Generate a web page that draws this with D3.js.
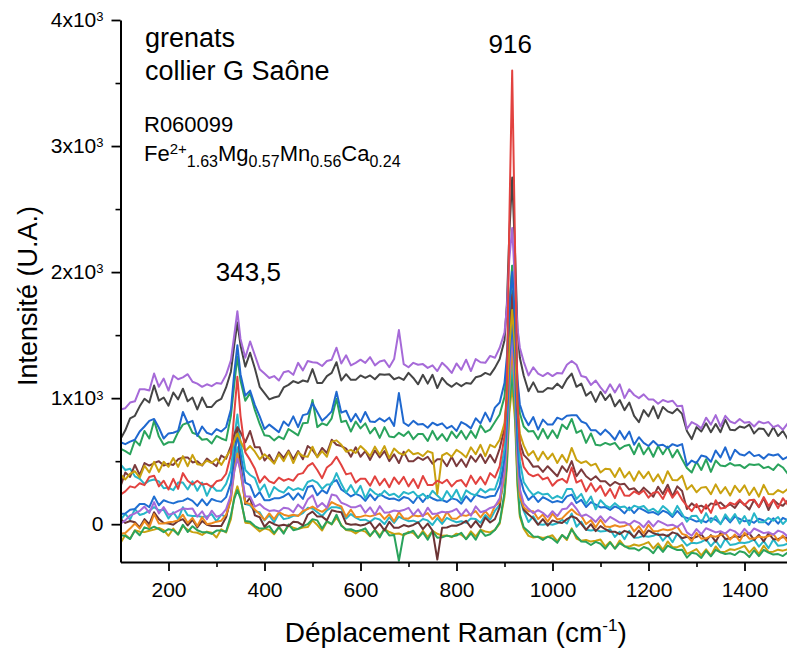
<!DOCTYPE html>
<html>
<head>
<meta charset="utf-8">
<script src="https://cdn.jsdelivr.net/npm/d3@7"></script>
<style>
  body { margin: 0; background: #fff; }
  svg { display: block; }
  text { font-family: "Liberation Sans", Arial, sans-serif; fill: #000; }
</style>
</head>
<body>
<svg id="chart" width="787" height="652"></svg>
<script>
// Raman shift sampling (cm-1), denser around the 343.5 and 916 bands
const ramanShift = [
  100,110,120,130,140,150,160,170,180,190,200,210,220,230,240,250,260,270,280,290,300,310,320,330,
  337,343.5,
  350,360,370,380,390,400,410,420,430,440,450,460,470,480,490,500,510,520,530,540,550,560,570,580,590,
  600,610,620,630,640,650,660,670,680,690,700,710,720,730,740,750,760,770,780,790,800,810,820,830,840,
  850,860,870,880,890,
  900,905,910,916,922,927,932,
  940,950,960,970,980,990,1000,1010,1020,1030,1040,1050,1060,1070,1080,1090,1100,1110,1120,1130,1140,
  1150,1160,1170,1180,1190,1200,1210,1220,1230,1240,1250,1260,1270,1280,1290,1300,1310,1320,1330,1340,
  1350,1360,1370,1380,1390,1400,1410,1420,1430,1440,1450,1460,1470,1480,1490,1500
];

// Intensities (a.u.) of each garnet spectrum on the ramanShift grid
const violet1 = [
  910,920,965,975,1070,1070,1060,1195,1090,1155,1060,1180,1150,1165,1190,1130,1115,1090,1110,1095,1120,1115,1185,1300,
  1500,1690,
  1470,1320,1450,1340,1230,1195,1160,1175,1140,1205,1215,1185,1280,1220,1295,1285,1280,1255,1295,1305,
  1400,1275,1340,1260,1280,1305,1280,1325,1260,1290,1300,1245,1310,1540,1270,1245,1280,1265,1270,1240,
  1260,1215,1280,1245,1200,1275,1225,1305,1215,1310,1285,1280,1335,1320,1400,
  1520,1720,2100,2350,1900,1560,1400,
  1290,1180,1245,1195,1175,1200,1175,1200,1195,1265,1295,1265,1175,1165,1105,1140,1085,1040,1110,1045,
  1110,1000,1070,1025,1000,1030,990,990,955,985,970,980,935,940,755,810,790,760,845,790,
  865,775,860,815,800,835,805,810,775,815,800,810,770,785,750,800,765
];
const graphite = [
  675,745,840,860,935,995,965,1100,980,1005,940,1045,990,1075,975,1005,910,1005,930,930,975,995,1085,1210,
  1420,1600,
  1420,1250,1360,1235,1090,1040,990,1005,1015,1085,1105,1135,1120,1140,1130,1230,1120,1120,1175,1200,
  1285,1140,1190,1145,1145,1180,1160,1180,1150,1190,1185,1190,1150,1165,1145,1200,1160,1110,1185,1115,
  1185,1080,1160,1115,1090,1120,1095,1120,1115,1165,1175,1200,1185,1240,1310,
  1460,1750,2300,2750,2150,1550,1320,
  1180,1055,1125,1050,1050,1080,1075,1115,1080,1150,1195,1090,1115,1020,1050,970,1050,985,1030,935,
  985,905,965,860,810,905,855,935,840,930,895,880,915,875,740,675,770,735,800,730,
  795,730,830,750,745,775,765,790,720,760,755,700,770,700,740,675,750
];
const blue1 = [
  650,635,655,670,735,775,820,835,765,680,720,725,740,890,805,820,700,775,725,710,755,735,770,910,
  1200,1420,
  1190,1020,1060,945,855,755,790,760,730,815,780,855,770,865,875,960,890,820,855,895,
  1050,885,900,815,875,810,890,815,810,840,815,845,780,1040,805,780,820,790,795,765,
  805,785,800,760,780,740,810,790,760,840,800,885,815,925,965,
  1120,1330,1720,2000,1620,1150,950,
  855,785,850,750,830,790,790,845,830,860,865,865,815,800,745,745,710,750,715,670,
  740,675,735,630,690,645,620,660,625,630,605,635,620,635,465,505,485,545,535,495,
  585,530,610,510,590,555,545,575,540,550,520,555,545,555,515,535,500
];
const green1 = [
  600,580,555,665,625,740,680,820,695,630,650,650,730,790,805,725,710,670,675,640,700,680,665,860,
  1110,1330,
  1140,980,1040,905,795,705,700,665,695,675,755,730,705,800,805,985,770,800,785,840,
  995,810,820,735,815,760,800,720,765,685,770,695,690,725,700,735,675,715,715,660,
  740,670,715,660,735,685,740,675,740,685,785,730,750,810,870,
  1010,1260,1720,2050,1650,1100,880,
  775,735,740,675,755,680,745,685,790,755,835,725,745,645,720,630,625,645,630,645,
  595,620,630,555,640,555,610,535,620,555,615,530,590,515,445,410,495,430,515,415,
  505,465,460,485,465,470,445,475,470,475,445,455,430,475,450,400,475
];
const ochre1 = [
  395,355,400,420,370,465,410,495,415,495,455,525,455,540,460,550,475,470,505,485,520,470,535,590,
  660,720,
  660,580,620,575,515,555,520,480,555,500,575,485,570,540,535,615,530,580,535,655,
  665,630,575,590,565,620,585,540,615,550,620,525,600,565,550,590,555,565,540,580,
  565,240,545,565,535,590,565,530,610,555,630,540,630,610,670,
  800,1000,1400,1700,1380,950,720,
  625,545,580,505,575,515,560,485,550,490,605,510,485,500,465,480,410,440,435,375,
  445,370,415,345,420,365,415,340,395,325,420,350,348,385,275,310,253,290,295,238,
  316,245,294,227,305,255,308,231,290,218,312,240,238,271,250,279,220
];
const maroon1 = [
  300,410,375,470,390,485,465,485,500,465,480,470,515,530,530,490,500,465,520,490,460,545,520,620,
  710,770,
  730,650,740,610,610,505,550,485,570,525,585,515,580,515,620,590,535,605,565,670,
  630,620,600,535,610,535,580,510,585,530,580,500,555,485,575,500,500,530,510,535,
  480,515,515,460,535,460,515,455,540,495,555,485,550,490,600,
  760,1000,1500,1820,1480,900,650,
  550,510,455,460,415,460,420,380,460,415,500,380,435,380,350,380,340,340,305,335,
  315,320,275,285,245,290,255,218,297,240,313,220,300,263,120,165,135,147,123,165,
  155,172,137,158,129,185,155,116,193,135,205,112,193,160,146,188,150
];
const red1 = [
  235,260,300,290,325,310,375,385,300,345,275,360,280,405,345,315,345,315,320,295,340,350,400,550,
  880,1170,
  860,570,510,440,330,380,340,325,370,345,360,345,395,405,460,485,430,365,450,480,
  535,470,395,405,330,360,360,305,380,310,360,293,371,320,375,300,358,287,382,310,
  310,345,325,353,300,340,350,300,385,320,375,315,405,370,460,
  700,1100,2400,3600,2200,1000,600,
  455,400,380,395,355,370,305,345,360,330,450,330,350,260,325,260,305,225,280,207,
  300,228,226,260,238,267,211,250,255,200,280,210,260,193,145,103,160,90,155,90,
  190,125,130,170,155,195,150,190,193,136,215,144,193,127,206,155,205
];
const cyan1 = [
  475,430,440,380,360,320,345,355,340,285,290,270,330,330,275,340,265,330,225,305,265,265,320,430,
  680,870,
  650,430,390,365,265,315,215,295,265,250,295,270,285,270,335,350,330,280,315,315,
  405,320,250,310,240,305,205,280,245,225,266,230,242,213,255,240,258,217,241,205,
  265,228,192,263,207,273,188,268,242,228,280,252,278,275,385,
  600,950,1600,2050,1700,900,500,
  335,275,230,255,235,242,203,225,205,280,280,200,240,160,220,118,190,150,130,167,
  134,140,111,147,133,144,105,123,91,144,112,70,145,83,20,65,67,10,88,16,
  65,-1,78,27,81,5,65,-7,87,16,15,49,28,57,1,40,40
];
const blue2 = [
  80,85,115,120,160,160,135,220,150,190,175,165,180,185,205,185,145,197,150,200,185,177,215,330,
  560,700,
  570,330,310,215,255,190,190,205,205,220,245,195,245,200,295,305,230,270,245,330,
  350,275,250,220,240,225,185,237,190,238,216,200,203,187,215,205,168,222,176,225,
  204,188,192,176,205,195,163,222,180,235,220,210,222,225,305,
  520,800,1300,1600,1250,650,380,
  265,192,227,176,215,195,173,184,173,221,235,168,193,136,175,155,133,136,113,141,
  123,86,133,88,130,112,90,96,75,107,91,57,105,62,50,38,21,30,15,47,
  35,4,57,14,60,42,23,30,11,43,29,-4,47,4,50,32,10
];
const violet2 = [
  5,30,70,85,105,140,90,175,85,135,75,85,105,125,120,125,60,102,40,107,59,72,120,230,
  420,520,
  430,220,220,140,160,125,105,110,100,130,125,95,155,120,195,230,135,168,130,235,
  225,170,155,135,135,150,91,133,75,143,91,95,109,103,112,130,74,118,62,131,
  80,85,99,93,102,122,70,118,67,141,95,106,129,140,205,
  420,700,1200,1500,1150,560,280,
  165,122,87,111,90,56,103,64,118,125,170,122,63,77,53,18,63,16,58,36,
  13,16,-5,27,11,-24,25,-18,26,8,-11,-4,-23,10,-65,-92,-39,-80,-32,-48,
  -65,-56,-75,-43,-57,-90,-37,-80,-34,-52,-71,-64,-83,-51,-65,-98,-51
];
const orange1 = [
  -75,-70,-35,5,-35,25,-25,80,5,5,15,20,30,75,10,50,-15,55,0,8,20,28,75,190,
  420,560,
  410,170,160,115,80,35,85,40,95,75,65,75,65,105,120,140,115,98,125,175,
  155,140,60,115,57,58,70,62,72,86,40,79,22,96,47,44,71,63,69,88,
  39,76,25,97,46,43,73,66,80,104,53,104,57,145,175,
  380,620,1100,1400,1050,480,220,
  135,102,102,41,76,19,83,37,46,85,118,82,66,1,32,-25,35,-19,-22,-9,
  -20,-14,2,-57,-16,-73,-5,-57,-54,-41,-48,-40,-20,-77,-90,-137,-69,-115,-112,-93,
  -100,-86,-70,-123,-82,-135,-67,-115,-114,-97,-106,-94,-78,-131,-90,-143,-81
];
const maroon2 = [
  40,10,25,15,-25,40,0,95,40,10,5,-5,25,40,-10,35,-25,25,-5,-15,-15,-15,55,210,
  560,760,
  490,160,210,70,55,-20,20,0,-13,-5,-15,20,15,-10,75,100,60,60,30,110,
  100,95,5,-5,0,-10,-2,16,-40,5,-50,19,-29,-28,-7,-18,-6,15,-39,4,
  -50,-280,-29,-26,-11,-12,2,26,-25,25,-25,53,13,40,135,
  500,900,1500,1850,1400,600,250,
  115,77,45,-5,40,-12,30,16,10,40,63,47,3,-45,0,-55,-15,-40,-60,-60,
  -79,-53,-66,-104,-51,-98,-50,-70,-85,-82,-95,-65,-77,-112,-100,-114,-100,-80,-131,-87,
  -139,-70,-117,-113,-95,-102,-88,-73,-125,-85,-137,-72,-119,-119,-101,-111,-98
];
const cyan2 = [
  35,82,37,120,73,85,107,135,110,115,45,95,40,135,70,65,65,58,60,80,23,76,57,230,
  470,610,
  430,160,150,100,95,30,70,15,87,40,48,67,68,88,130,125,95,65,110,135,
  135,125,45,80,52,33,36,19,48,37,1,55,10,60,40,24,28,12,41,30,
  -6,48,2,51,30,15,23,12,46,41,11,73,36,105,155,
  380,620,1050,1300,980,450,200,
  105,17,63,0,-5,3,-5,7,35,5,85,-20,20,-45,-50,-45,-58,-54,-40,-101,
  -60,-119,-53,-107,-105,-93,-100,-92,-74,-131,-87,-143,-74,-125,-170,-147,-152,-141,-120,-175,
  -130,-185,-115,-165,-160,-145,-150,-141,-122,-178,-134,-190,-121,-172,-168,-154,-165
];
const green2 = [
  -85,-93,-118,-51,-88,-25,-38,-20,-40,-63,-40,-47,-82,-5,-62,-16,-48,-63,-64,-77,-51,-51,-60,70,
  200,270,
  205,25,20,-15,-35,-32,-15,-70,-23,-75,-2,-48,-38,-15,0,40,30,-35,25,0,
  75,-13,-42,-40,-55,-50,-33,-91,-48,-105,-37,-89,-86,-290,-78,-70,-52,-109,-66,-123,
  -55,-107,-104,-91,-98,-90,-68,-120,-72,-123,-49,-93,-80,-47,15,
  250,500,950,1200,900,350,80,
  -25,-58,-97,-100,-125,-99,-115,-148,-87,-115,-42,-95,-137,-140,-165,-140,-155,-195,-145,-195,
  -150,-174,-193,-190,-209,-181,-195,-230,-175,-220,-170,-190,-205,-202,-265,-227,-235,-268,-211,-255,
  -204,-223,-237,-231,-245,-215,-225,-261,-207,-253,-204,-225,-241,-237,-253,-224,-245
];
const ochre2 = [
  -150,-85,-115,-48,-60,-63,-52,-43,-30,-47,-92,-35,-82,-15,-44,-63,-68,-85,-59,-67,-106,-41,-65,40,
  220,300,
  215,12,8,-25,-57,-33,-45,-80,-23,-65,-12,-28,-39,-26,-23,30,-7,-50,20,-2,
  52,-5,-47,-52,-73,-47,-59,-96,-43,-90,-40,-62,-77,-74,-89,-61,-71,-108,-53,-102,
  -52,-76,-91,-89,-103,-75,-83,-115,-57,-98,-44,-58,-65,-45,5,
  220,450,880,1100,820,300,60,
  -35,-93,-106,-100,-110,-102,-88,-137,-86,-125,-33,-115,-132,-125,-138,-132,-122,-177,-140,-193,
  -129,-177,-178,-161,-171,-158,-142,-193,-152,-203,-137,-183,-182,-165,-235,-218,-198,-247,-200,-249,
  -177,-223,-218,-199,-204,-190,-172,-226,-184,-238,-171,-220,-218,-202,-210,-199,-190
];

// Axis ticks
const xMajorTicks = [200, 400, 600, 800, 1000, 1200, 1400];
const xMinorTicks = [300, 500, 700, 900, 1100, 1300, 1500];
const yMajorTicks = [0, 1000, 2000, 3000, 4000];
const yMinorTicks = [500, 1500, 2500, 3500];

// Band annotations: band position, label text, label baseline intensity
const bandLabels = [
  { shift: 343.5, text: "343,5", value: 1930 },
  { shift: 916, text: "916", value: 3740 }
];
const bandLabelDx = { "343,5": 11, "916": -2 };

// Drawing order (last on top) with line colours
const spectra = [
  { values: ochre2,   color: "#c9a10f" },
  { values: green2,   color: "#2aa35c" },
  { values: cyan2,    color: "#27b6c8" },
  { values: maroon2,  color: "#6b3434" },
  { values: orange1,  color: "#ec8a1e" },
  { values: violet2,  color: "#a66ad8" },
  { values: blue2,    color: "#1f6fd2" },
  { values: cyan1,    color: "#27b6c8" },
  { values: maroon1,  color: "#7b3a3c" },
  { values: ochre1,   color: "#c9a10f" },
  { values: green1,   color: "#2aa35c" },
  { values: blue1,    color: "#1f68cf" },
  { values: graphite, color: "#454545" },
  { values: violet1,  color: "#a66ad8" },
  { values: red1,     color: "#e2423f" }
];

const svg = d3.select("#chart");
const plot = { left: 120.5, right: 792.5, top: 20, bottom: 562 };

const x = d3.scaleLinear().domain([100, 1500]).range([plot.left, plot.right]);
const y = d3.scaleLinear().domain([-300, 4000]).range([plot.bottom, plot.top]);

svg.append("defs").append("clipPath").attr("id", "plot-clip")
  .append("rect")
  .attr("x", plot.left).attr("y", plot.top - 5)
  .attr("width", plot.right - plot.left).attr("height", plot.bottom - plot.top + 5);

// Spectra
const line = d3.line()
  .x((d, i) => x(ramanShift[i]))
  .y(d => y(d));

svg.append("g").attr("clip-path", "url(#plot-clip)")
  .selectAll("path")
  .data(spectra)
  .join("path")
  .attr("fill", "none")
  .attr("stroke", d => d.color)
  .attr("stroke-width", 2)
  .attr("stroke-linejoin", "round")
  .attr("d", d => line(d.values));

// Minor ticks
svg.append("g")
  .attr("transform", `translate(0,${plot.bottom})`)
  .call(d3.axisBottom(x).tickValues(xMinorTicks).tickSize(5).tickFormat(""))
  .call(g => g.select(".domain").remove())
  .selectAll("line").attr("stroke", "#000").attr("stroke-width", 1.6);

svg.append("g")
  .attr("transform", `translate(${plot.left},0)`)
  .call(d3.axisLeft(y).tickValues(yMinorTicks).tickSize(5).tickFormat(""))
  .call(g => g.select(".domain").remove())
  .selectAll("line").attr("stroke", "#000").attr("stroke-width", 1.6);

// Major axes
const xAxis = svg.append("g")
  .attr("transform", `translate(0,${plot.bottom})`)
  .call(d3.axisBottom(x).tickValues(xMajorTicks).tickSize(9).tickSizeOuter(0).tickPadding(11)
    .tickFormat(d3.format("d")));

const yAxis = svg.append("g")
  .attr("transform", `translate(${plot.left},0)`)
  .call(d3.axisLeft(y).tickValues(yMajorTicks).tickSize(9).tickSizeOuter(0).tickPadding(8));

[xAxis, yAxis].forEach(g => {
  g.select(".domain").attr("stroke", "#000").attr("stroke-width", 2);
  g.selectAll(".tick line").attr("stroke", "#000").attr("stroke-width", 1.8);
  g.selectAll(".tick text").attr("font-size", 21).attr("font-family", "Liberation Sans, Arial, sans-serif").attr("fill", "#000");
});

// y tick labels in the form Nx10^3
yAxis.selectAll(".tick text").each(function (d) {
  const t = d3.select(this);
  t.text(null);
  if (d === 0) {
    t.text("0");
  } else {
    t.append("tspan").text(`${d / 1000}x10`);
    t.append("tspan").attr("dy", "-0.45em").attr("font-size", 13).text("3");
  }
});

// Axis titles
const xTitle = svg.append("text")
  .attr("x", (plot.left + 787) / 2 + 2)
  .attr("y", 642)
  .attr("text-anchor", "middle")
  .attr("font-size", 28);
xTitle.append("tspan").text("Déplacement Raman (cm");
xTitle.append("tspan").attr("dy", -11).attr("font-size", 17).text("-1");
xTitle.append("tspan").attr("dy", 11).text(")");

svg.append("text")
  .attr("transform", "translate(37,296) rotate(-90)")
  .attr("text-anchor", "middle")
  .attr("font-size", 27)
  .text("Intensité (U.A.)");

// Sample description
svg.append("text").attr("x", 145).attr("y", 47).attr("font-size", 27).text("grenats");
svg.append("text").attr("x", 145).attr("y", 80).attr("font-size", 27).text("collier G Saône");
svg.append("text").attr("x", 144).attr("y", 132).attr("font-size", 22).text("R060099");

const formula = svg.append("text").attr("x", 144).attr("y", 161).attr("font-size", 22);
formula.append("tspan").text("Fe");
formula.append("tspan").attr("dy", -7).attr("font-size", 15).text("2+");
formula.append("tspan").attr("dy", 13).attr("font-size", 16).text("1.63");
formula.append("tspan").attr("dy", -6).text("Mg");
formula.append("tspan").attr("dy", 6).attr("font-size", 16).text("0.57");
formula.append("tspan").attr("dy", -6).text("Mn");
formula.append("tspan").attr("dy", 6).attr("font-size", 16).text("0.56");
formula.append("tspan").attr("dy", -6).text("Ca");
formula.append("tspan").attr("dy", 6).attr("font-size", 16).text("0.24");

// Band position labels
svg.selectAll("text.band")
  .data(bandLabels)
  .join("text")
  .attr("class", "band")
  .attr("x", d => x(d.shift) + bandLabelDx[d.text])
  .attr("y", d => y(d.value))
  .attr("text-anchor", "middle")
  .attr("font-size", 26)
  .text(d => d.text);
</script>
</body>
</html>
